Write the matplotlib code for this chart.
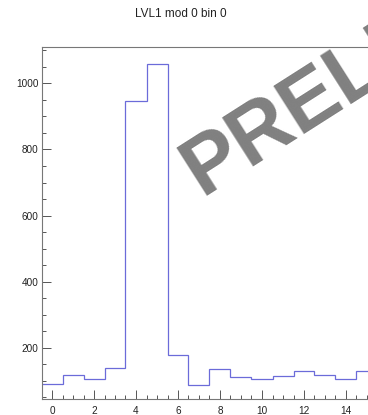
import matplotlib
matplotlib.use("Agg")
import matplotlib.pyplot as plt
from matplotlib.ticker import MultipleLocator

# LVL1 counts per bin (bin centres at integers)
bins = list(range(16))
counts = [91, 118, 104, 138, 947, 1058, 179, 87, 135, 111, 104, 114, 129, 118, 107, 129]

title = "LVL1 mod 0 bin 0"
watermark = "PRELIMINARY"

plt.rcParams["font.family"] = ["Liberation Sans", "DejaVu Sans"]

fig = plt.figure(figsize=(3.68, 4.15), dpi=100)
# frame runs off the right edge of the canvas
ax = fig.add_axes([41.5 / 368, 16 / 415, 336 / 368, 352 / 415])

edges = [b - 0.5 for b in bins] + [bins[-1] + 0.5]
ax.stairs(counts, edges, color="#6b6bd9", lw=0.9, baseline=None)

ax.set_xlim(-0.5, 15.5)
ax.set_ylim(45, 1110)

ax.xaxis.set_major_locator(MultipleLocator(2))
ax.xaxis.set_minor_locator(MultipleLocator(0.5))
ax.yaxis.set_major_locator(MultipleLocator(200))
ax.yaxis.set_minor_locator(MultipleLocator(50))
ax.yaxis.set_major_formatter(lambda v, p: "" if v < 200 else f"{v:.0f}")

ax.tick_params(which="both", direction="in", colors="#555555", labelcolor="#222222",
               labelsize=7.2, width=0.7, top=False, right=False)
ax.tick_params(which="major", length=6.5)
ax.tick_params(which="minor", length=3.2)
ax.tick_params(axis="x", pad=5)
ax.tick_params(axis="y", pad=2)

for s in ax.spines.values():
    s.set_color("#777777")
    s.set_linewidth(0.8)

fig.text(181 / 368, 1 - 14 / 415, title, ha="center", va="center", fontsize=8.5,
         color="#222222")

fig.text(201 / 368, 1 - 196 / 415, watermark, ha="left", va="baseline",
         rotation=32.5, rotation_mode="anchor", fontsize=60, fontweight="bold",
         color="#808080", zorder=10)

fig.savefig("out.png", dpi=100)
